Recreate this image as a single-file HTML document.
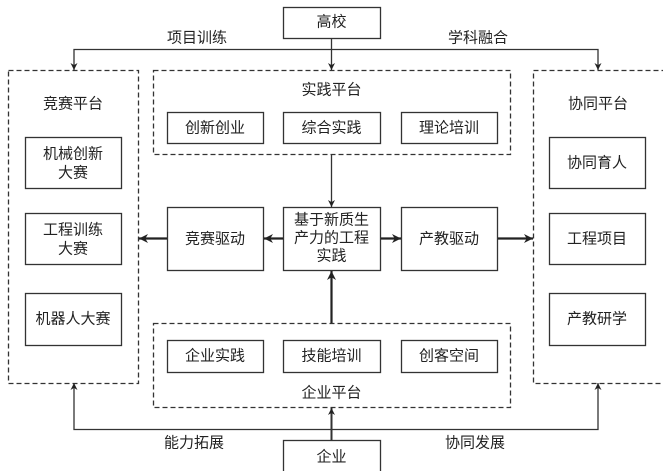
<!DOCTYPE html>
<html><head><meta charset="utf-8"><style>
html,body{margin:0;padding:0;background:#fff;}
svg{display:block;}
text{font-family:"Liberation Sans","Noto Sans CJK SC",sans-serif;font-size:15px;fill:#222;text-anchor:middle;dominant-baseline:central;}
</style></head><body>
<svg width="663" height="471" viewBox="0 0 663 471" xmlns="http://www.w3.org/2000/svg">
<defs>
<marker id="a" viewBox="0 0 10 10" refX="10" refY="5" markerWidth="7" markerHeight="7" orient="auto-start-reverse" markerUnits="userSpaceOnUse"><path d="M0,0 L10,5 L0,10 L3,5 z" fill="#222"/></marker>
<marker id="b" viewBox="0 0 10 10" refX="10" refY="5" markerWidth="9" markerHeight="9" orient="auto-start-reverse" markerUnits="userSpaceOnUse"><path d="M0,0 L10,5 L0,10 L3,5 z" fill="#222"/></marker>
</defs>
<g fill="none" stroke="#333" stroke-width="1.3">
<!-- dashed containers -->
<rect x="8.5" y="70.5" width="130" height="313" stroke-dasharray="5,3"/>
<rect x="153.5" y="70.5" width="357" height="84" stroke-dasharray="5,3"/>
<rect x="533.5" y="70.5" width="135" height="313" stroke-dasharray="5,3"/>
<rect x="153.5" y="323.5" width="357" height="84" stroke-dasharray="5,3"/>
<!-- solid boxes -->
<rect x="283.5" y="7.5" width="97" height="31"/>
<rect x="283.5" y="440.5" width="97" height="35"/>
<rect x="167.5" y="112.5" width="96" height="31"/>
<rect x="283.5" y="112.5" width="97" height="31"/>
<rect x="401.5" y="112.5" width="96" height="31"/>
<rect x="167.5" y="340.5" width="96" height="32"/>
<rect x="283.5" y="340.5" width="97" height="32"/>
<rect x="401.5" y="340.5" width="96" height="32"/>
<rect x="25.5" y="137.5" width="96" height="51"/>
<rect x="25.5" y="213.5" width="96" height="51"/>
<rect x="25.5" y="293.5" width="96" height="52"/>
<rect x="549.5" y="137.5" width="96" height="51"/>
<rect x="549.5" y="213.5" width="96" height="51"/>
<rect x="549.5" y="293.5" width="96" height="52"/>
<rect x="167.5" y="207.5" width="96" height="63"/>
<rect x="283.5" y="207.5" width="97" height="63"/>
<rect x="401.5" y="207.5" width="96" height="63"/>
<!-- connectors -->
<path d="M74,70 V49.5 H598 V70" marker-start="url(#a)" marker-end="url(#a)"/>
<path d="M331.5,38 V70" marker-end="url(#a)"/>
<path d="M331.5,155 V207" marker-end="url(#a)"/>
<path d="M74,383 V429.5 H598 V383" marker-start="url(#a)" marker-end="url(#a)"/>
<path d="M331.5,440 V408" marker-end="url(#a)" stroke-width="2"/>
</g>
<g fill="none" stroke="#222" stroke-width="2.2">
<path d="M331.5,323 V271" marker-end="url(#b)"/>
<path d="M283,238.5 H264" marker-end="url(#b)"/>
<path d="M167,238.5 H139" marker-end="url(#b)"/>
<path d="M381,238.5 H401" marker-end="url(#b)"/>
<path d="M498,238.5 H533" marker-end="url(#b)"/>
</g>
<text x="331.5" y="22">高校</text>
<text x="331.5" y="457">企业</text>
<text x="197" y="38">项目训练</text>
<text x="478" y="38">学科融合</text>
<text x="194" y="443">能力拓展</text>
<text x="475" y="443">协同发展</text>
<text x="331.5" y="90">实践平台</text>
<text x="331.5" y="393">企业平台</text>
<text x="73" y="104">竞赛平台</text>
<text x="598" y="104">协同平台</text>
<text x="215" y="128">创新创业</text>
<text x="331.5" y="128">综合实践</text>
<text x="449" y="128">理论培训</text>
<text x="215" y="356">企业实践</text>
<text x="331.5" y="356">技能培训</text>
<text x="449" y="356">创客空间</text>
<text x="73" y="154">机械创新</text>
<text x="73" y="173">大赛</text>
<text x="73" y="230">工程训练</text>
<text x="73" y="249">大赛</text>
<text x="73" y="319">机器人大赛</text>
<text x="597" y="163">协同育人</text>
<text x="597" y="239">工程项目</text>
<text x="597" y="319">产教研学</text>
<text x="215" y="239">竞赛驱动</text>
<text x="449" y="239">产教驱动</text>
<text x="331.5" y="220">基于新质生</text>
<text x="331.5" y="238">产力的工程</text>
<text x="331.5" y="256">实践</text>
</svg>
</body></html>
